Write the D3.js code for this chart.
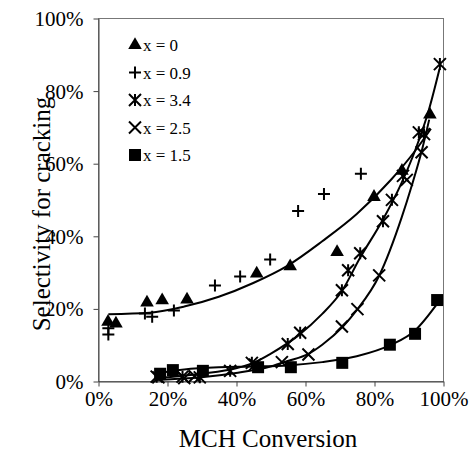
<!DOCTYPE html>
<html>
<head>
<meta charset="utf-8">
<script src="https://cdn.jsdelivr.net/npm/d3@7"></script>
<style>
body { margin: 0; background: #fff; }
</style>
</head>
<body>
<script>
var width = 469, height = 452;
var serif = "'Liberation Serif', 'Times New Roman', serif";

// data (percent)
var triX  = [2.9, 5.2, 14.2, 18.6, 25.8, 46, 55.7, 69.3, 80, 88.1, 96.2];
var triY  = [16.3, 15.8, 21.6, 22.2, 22.4, 29.6, 31.6, 35.5, 50.7, 57.9, 73.4];
var plusX = [3.0, 3.0, 13.6, 15.7, 22, 33.9, 41.2, 49.9, 58, 65.5, 76.2];
var plusY = [14.5, 12.8, 18.6, 17.7, 19.4, 26.3, 28.8, 33.5, 46.8, 51.5, 57.1];
var astX  = [17, 24.5, 29.5, 38.3, 44.6, 55, 58.6, 70.7, 72.5, 76, 82.6, 85.2, 88.4, 93, 94.5, 99.1];
var astY  = [1.2, 1.2, 1.0, 2.8, 5.0, 10.2, 13.3, 25, 30.5, 35.2, 44, 49.9, 56.5, 68.5, 68, 87.3];
var crossX = [17.5, 25, 28, 45.5, 53.3, 61, 70.7, 75.2, 81.5, 89.5, 93.8];
var crossY = [1.0, 0.8, 1.3, 4.5, 5.2, 7.3, 15, 19.8, 29.1, 55.4, 63];
var sqX = [18, 21.7, 30.4, 46.4, 55.9, 70.8, 84.6, 91.9, 98.3];
var sqY = [2.0, 3.0, 2.8, 3.8, 3.8, 5.0, 10, 13, 22.3];

// trendlines
var trend0X = [3, 15, 25, 35, 45, 55, 65, 75, 85, 92, 96.5];
var trend0Y = [18.4, 18.8, 20.5, 23.2, 27, 31.8, 38.5, 46, 55.5, 63.5, 69.5];
var trend34X = [17, 30, 40, 45, 50, 58, 65, 70.5, 76, 82.6, 88, 92, 96, 99];
var trend34Y = [0.8, 2, 3.5, 5, 7.5, 12.5, 18.5, 24.5, 34, 44.5, 54.6, 63.7, 75, 86];
var trend25X = [17, 30, 40, 50, 55, 61, 65, 71, 75, 81.5, 88, 91, 94, 96];
var trend25Y = [0.3, 1, 2.2, 4, 5.5, 7.5, 10, 15, 19.5, 29, 45, 54, 64, 72];
var trend15X = [18, 25, 35, 45, 55, 65, 75, 85, 92, 98.5];
var trend15Y = [2.3, 3.2, 3.8, 4.0, 4.3, 5.2, 6.8, 10, 14, 21.5];

var xTicks = [0, 20, 40, 60, 80, 100];
var yTicks = [0, 20, 40, 60, 80, 100];
var legendLabels = ["x = 0", "x = 0.9", "x = 3.4", "x = 2.5", "x = 1.5"];

var svg = d3.select("body").append("svg")
  .attr("width", width)
  .attr("height", height)
  .style("font-family", serif);

var x = d3.scaleLinear().domain([0, 100]).range([98, 443]);
var y = d3.scaleLinear().domain([0, 100]).range([381, 18]);

// frame
svg.append("rect")
  .attr("x", x(0) + 0.5).attr("y", y(100) + 0.5)
  .attr("width", x(100) - x(0)).attr("height", y(0) - y(100))
  .attr("fill", "none").attr("stroke", "#777");

var xAxis = svg.append("g")
  .attr("transform", "translate(0.5," + (y(0) + 0.5) + ")")
  .call(d3.axisBottom(x).tickValues(xTicks).tickSize(5).tickSizeOuter(0)
    .tickFormat(function(d) { return d + "%"; }));
xAxis.attr("font-family", null);
xAxis.select(".domain").attr("stroke", "#444");
xAxis.selectAll(".tick line").attr("stroke", "#444");
xAxis.selectAll("text").style("font-family", serif).style("font-size", "21px")
  .attr("fill", "#000").attr("y", 24).attr("dy", 0);

var yAxis = svg.append("g")
  .attr("transform", "translate(" + (x(0) + 0.5) + ",0.5)")
  .call(d3.axisLeft(y).tickValues(yTicks).tickSize(5).tickSizeOuter(0)
    .tickFormat(function(d) { return d + "%"; }));
yAxis.attr("font-family", null);
yAxis.select(".domain").attr("stroke", "#444");
yAxis.selectAll(".tick line").attr("stroke", "#444");
yAxis.selectAll("text").style("font-family", serif).style("font-size", "21px")
  .attr("fill", "#000").attr("x", -15).attr("dy", "0.33em");

svg.append("text")
  .attr("x", 268).attr("y", 447)
  .attr("text-anchor", "middle").style("font-size", "25px")
  .text("MCH Conversion");

svg.append("text")
  .attr("transform", "translate(50,214) rotate(-90)")
  .attr("text-anchor", "middle").style("font-size", "25px")
  .text("Selectivity for cracking");

// trendlines
var line = d3.line()
  .x(function(d) { return x(d[0]); })
  .y(function(d) { return y(d[1]); })
  .curve(d3.curveMonotoneX);

[[trend0X, trend0Y], [trend34X, trend34Y], [trend25X, trend25Y], [trend15X, trend15Y]]
  .forEach(function(t) {
    svg.append("path")
      .datum(d3.zip(t[0], t[1]))
      .attr("d", line)
      .attr("fill", "none")
      .attr("stroke", "#000")
      .attr("stroke-width", 2);
  });

// markers
function plusPath(r) { return "M" + (-r) + ",0H" + r + "M0," + (-r) + "V" + r; }
function crossPath(r) { return "M" + (-r) + "," + (-r) + "L" + r + "," + r + "M" + (-r) + "," + r + "L" + r + "," + (-r); }
function astPath(r) { return crossPath(r) + "M0," + (-r) + "V" + r; }
var triPath = d3.symbol().type(d3.symbolTriangle).size(80)();
var sqPath = d3.symbol().type(d3.symbolSquare).size(144)();

var markers = [
  { d: triPath, fill: true },
  { d: plusPath(6), fill: false },
  { d: astPath(6), fill: false },
  { d: crossPath(6), fill: false },
  { d: sqPath, fill: true }
];

function drawSeries(xs, ys, m) {
  svg.append("g").selectAll("path")
    .data(d3.zip(xs, ys))
    .join("path")
    .attr("transform", function(d) { return "translate(" + x(d[0]) + "," + y(d[1]) + ")"; })
    .attr("d", m.d)
    .attr("fill", m.fill ? "#000" : "none")
    .attr("stroke", m.fill ? "none" : "#000")
    .attr("stroke-width", 2);
}
drawSeries(triX, triY, markers[0]);
drawSeries(plusX, plusY, markers[1]);
drawSeries(astX, astY, markers[2]);
drawSeries(crossX, crossY, markers[3]);
drawSeries(sqX, sqY, markers[4]);

// legend
var legend = svg.append("g");
legendLabels.forEach(function(label, i) {
  var ly = 45 + i * 27.5;
  legend.append("path")
    .attr("transform", "translate(135," + ly + ")")
    .attr("d", markers[i].d)
    .attr("fill", markers[i].fill ? "#000" : "none")
    .attr("stroke", markers[i].fill ? "none" : "#000")
    .attr("stroke-width", 2);
  legend.append("text")
    .attr("x", 143).attr("y", ly + 6)
    .style("font-size", "17px")
    .text(label);
});
</script>
</body>
</html>
